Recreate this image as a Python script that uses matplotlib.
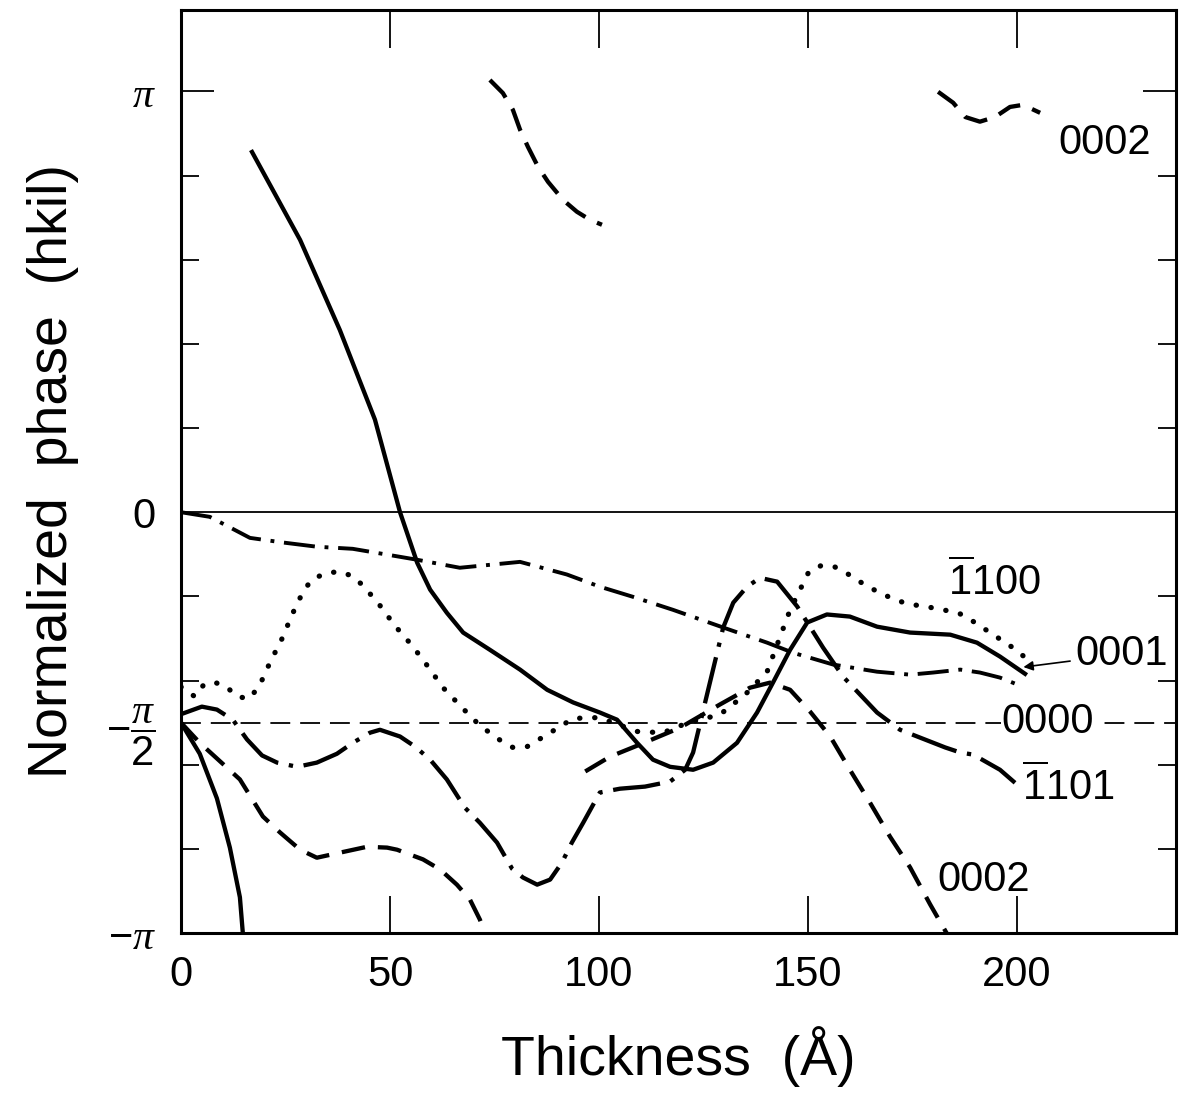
import numpy as np
import matplotlib.pyplot as plt

plt.rcParams['font.family'] = ['Liberation Sans', 'DejaVu Sans']
plt.rcParams['mathtext.fontset'] = 'custom'
plt.rcParams['mathtext.rm'] = 'Liberation Sans'
plt.rcParams['mathtext.it'] = 'Liberation Serif:italic'

# thickness in Angstrom, phase in units of pi

# 0001 solid, lower piece and upper piece
t_0001_lo = [0, 4.5, 8.6, 11.7, 14.1, 14.8]
p_0001_lo = [-0.5, -0.574, -0.68, -0.797, -0.915, -1.0]
t_0001_hi = [17.0, 28.5, 38.0, 46.4, 52.4, 56.5, 59.6, 63.6, 67.5, 73.9, 81.1, 87.6,
             93.8, 100.2, 104.3, 109.1, 112.9, 117.0, 122.5, 127.3, 133.0, 137.8,
             141.6, 145.7, 149.8, 154.5, 160.0, 166.5, 174.4, 184.0, 190.4, 195.9, 201.9]
p_0001_hi = [0.856, 0.647, 0.433, 0.220, 0.0, -0.120, -0.184, -0.239, -0.286, -0.327,
             -0.374, -0.422, -0.452, -0.476, -0.493, -0.548, -0.588, -0.605, -0.612,
             -0.595, -0.548, -0.476, -0.405, -0.327, -0.262, -0.243, -0.248, -0.272,
             -0.286, -0.291, -0.310, -0.343, -0.384]

# 0000 dash-dot
t_0000 = [0, 6.9, 16.5, 24.4, 32.5, 41.1, 52.4, 56.5, 66.7, 73.9, 81.1, 92.3, 100.2,
          108.1, 117.7, 129.7, 140.2, 146.4, 156.0, 166.5, 174.4, 179.9, 186.4, 191.1,
          195.9, 200.7]
p_0000 = [0.0, -0.011, -0.061, -0.072, -0.082, -0.087, -0.106, -0.113, -0.132, -0.125,
          -0.118, -0.148, -0.177, -0.201, -0.232, -0.274, -0.310, -0.334, -0.362,
          -0.379, -0.386, -0.381, -0.374, -0.381, -0.393, -0.412]

# -1100 dotted
t_1100 = [0, 3.3, 5.3, 7.7, 10.8, 13.4, 16.3, 18.7, 21.3, 24.2, 26.6, 29.2, 31.3, 34.4,
          37.6, 40.9, 43.3, 47.1, 51.2, 55.3, 59.1, 62.7, 67.2, 71.5, 76.8, 79.4, 82.8,
          88.3, 93.8, 99.8, 103.3, 109.1, 115.3, 121.3, 128.9, 134.9, 140.2, 143.5,
          145.7, 147.4, 150.2, 153.1, 156.2, 159.1, 162.0, 167.5, 173.4, 179.7, 185.9,
          188.8, 194.3, 199.0, 201.4]
p_1100 = [-0.415, -0.438, -0.412, -0.403, -0.414, -0.438, -0.443, -0.414, -0.357, -0.300,
          -0.243, -0.189, -0.160, -0.146, -0.141, -0.151, -0.172, -0.215, -0.270, -0.317,
          -0.367, -0.417, -0.464, -0.507, -0.545, -0.559, -0.557, -0.524, -0.490, -0.488,
          -0.500, -0.521, -0.524, -0.500, -0.481, -0.434, -0.379, -0.291, -0.232, -0.198,
          -0.141, -0.127, -0.129, -0.144, -0.163, -0.194, -0.217, -0.227, -0.239, -0.255,
          -0.291, -0.322, -0.341]

# -1101 long dash-dot
t_1101 = [0, 5.0, 8.6, 12.4, 15.8, 19.4, 23.0, 27.8, 32.5, 37.3, 41.1, 45.2, 47.6, 52.4,
          56.0, 59.6, 63.6, 67.9, 71.5, 75.6, 79.2, 81.8, 85.2, 88.3, 91.1, 93.5, 96.2,
          100.2, 105.0, 111.0, 117.0, 120.6, 122.5, 126.1, 129.7, 132.1, 135.4, 138.5,
          142.6, 147.4, 153.6, 158.4, 166.5, 172.0, 182.8, 186.4, 189.5, 195.9, 199.5]
p_1101 = [-0.48, -0.462, -0.469, -0.493, -0.540, -0.578, -0.595, -0.605, -0.595, -0.574,
          -0.548, -0.524, -0.517, -0.533, -0.557, -0.588, -0.635, -0.702, -0.738, -0.785,
          -0.847, -0.868, -0.885, -0.873, -0.833, -0.785, -0.738, -0.666, -0.657, -0.652,
          -0.640, -0.612, -0.571, -0.422, -0.274, -0.215, -0.177, -0.156, -0.165, -0.224,
          -0.322, -0.391, -0.476, -0.517, -0.559, -0.571, -0.576, -0.612, -0.643]

# 0002 dashed, four pieces
t_0002_a = [0, 4.5, 14.1, 19.6, 23.7, 28.5, 32.5, 38.0, 44.5, 49.3, 51.7, 57.9, 62.0,
            66.0, 69.1, 71.5, 72.7]
p_0002_a = [-0.5, -0.548, -0.635, -0.723, -0.761, -0.802, -0.821, -0.809, -0.795,
            -0.797, -0.802, -0.825, -0.849, -0.885, -0.920, -0.968, -0.999]
t_0002_b = [73.9, 77.0, 79.4, 81.1, 83.0, 85.4, 87.8, 91.4, 94.7, 97.8, 100.7]
p_0002_b = [1.027, 0.996, 0.956, 0.909, 0.868, 0.821, 0.785, 0.742, 0.714, 0.695, 0.683]
t_0002_c = [96.7, 102.6, 109.8, 119.4, 128.9, 136.1, 140.9, 145.7, 150.5, 155.3, 160.0,
            164.8, 169.6, 174.4, 179.2, 183.3]
p_0002_c = [-0.616, -0.581, -0.552, -0.512, -0.457, -0.417, -0.405, -0.422, -0.474,
            -0.533, -0.612, -0.690, -0.771, -0.844, -0.932, -1.003]
t_0002_d = [181.1, 184.7, 187.6, 191.1, 194.7, 198.3, 201.4, 205.5]
p_0002_d = [0.999, 0.973, 0.939, 0.928, 0.939, 0.963, 0.968, 0.949]

pi = np.pi

fig = plt.figure(figsize=(11.85, 10.99), dpi=100)
ax = fig.add_axes([0.1527, 0.151, 0.8397, 0.840])

# reference lines
ax.axhline(0, color='k', lw=1.3)
ax.axhline(-pi / 2, color='k', lw=1.3, dashes=(11, 5.5))

lw = 3.1
style = dict(color='k', solid_joinstyle='round', dash_joinstyle='round')
ax.plot(t_0001_lo, np.array(p_0001_lo) * pi, lw=lw, **style)
ax.plot(t_0001_hi, np.array(p_0001_hi) * pi, lw=lw, **style)
ax.plot(t_0000, np.array(p_0000) * pi, lw=2.8, dashes=(8, 2.5, 1, 2.5), **style)
ax.plot(t_1100, np.array(p_1100) * pi, lw=3.8, dashes=(0.05, 2.8),
        dash_capstyle='round', **style)
ax.plot(t_1101, np.array(p_1101) * pi, lw=lw, dashes=(11, 2.5, 1, 2.5), **style)
for t, p in [(t_0002_a, p_0002_a), (t_0002_b, p_0002_b),
             (t_0002_c, p_0002_c), (t_0002_d, p_0002_d)]:
    ax.plot(t, np.array(p) * pi, lw=lw, dashes=(5.5, 3), **style)

ax.set_xlim(0, 238)
ax.set_ylim(-pi, 1.1936 * pi)

# ticks
ax.set_xticks([0, 50, 100, 150, 200])
ax.tick_params(axis='x', which='major', direction='in', length=27, width=1.3,
               labelsize=30, pad=16, top=True)
ax.set_yticks([-pi, -pi / 2, 0, pi])
ax.set_yticklabels([r'$-\pi$', r'$-\dfrac{\pi}{2}$', '0', r'$\pi$'])
ax.set_yticks([k * 0.2 * pi for k in range(-4, 5) if k != 0], minor=True)
ax.tick_params(axis='y', which='major', direction='in', length=24, width=1.3,
               labelsize=30, pad=18, right=True)
ax.tick_params(axis='y', which='minor', direction='in', length=13, width=1.3,
               right=True)
for tk in ax.yaxis.get_major_ticks()[1:3]:
    tk.tick1line.set_visible(False)
    tk.tick2line.set_visible(False)
ax.xaxis.get_major_ticks()[0].tick1line.set_visible(False)

for s in ax.spines.values():
    s.set_linewidth(2.2)

ax.set_xlabel('Thickness  (Å)', fontsize=40, labelpad=22)
ax.set_ylabel('Normalized  phase  (hkil)', fontsize=40, labelpad=20)

# curve labels
fs = 30
ax.text(221, 0.878 * pi, '0002', fontsize=fs, ha='center', va='center')
ax.text(194.7, -0.165 * pi, r'$\overline{1}100$', fontsize=fs, ha='center', va='center')
ax.annotate('0001', xy=(201.5, -0.368 * pi), xytext=(214, -0.338 * pi),
            fontsize=fs, ha='left', va='center',
            arrowprops=dict(arrowstyle='-|>', color='k', lw=1.2, shrinkA=2,
                            shrinkB=0, mutation_scale=14))
ax.text(207.4, -0.498 * pi, '0000', fontsize=fs, ha='center', va='center',
        bbox=dict(facecolor='white', edgecolor='none', pad=1))
ax.text(212.2, -0.652 * pi, r'$\overline{1}101$', fontsize=fs, ha='center', va='center')
ax.text(191.9, -0.873 * pi, '0002', fontsize=fs, ha='center', va='center')

fig.savefig('out.png', dpi=100)
